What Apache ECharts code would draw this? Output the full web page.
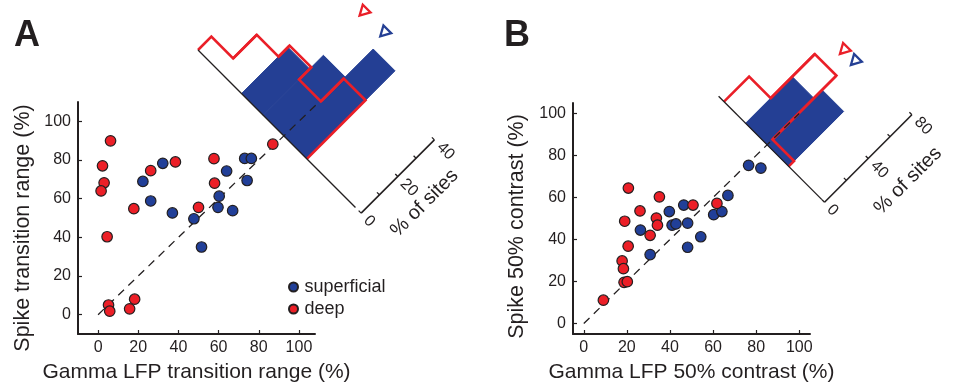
<!DOCTYPE html>
<html>
<head>
<meta charset="utf-8">
<script src="https://cdn.jsdelivr.net/npm/echarts@6/dist/echarts.min.js"></script>
<style>
  html, body { margin: 0; padding: 0; background: #fff; }
  #chart { width: 956px; height: 388px; }
</style>
</head>
<body>
<div id="chart"></div>
<script>
const FONT = "'Liberation Sans', Arial, Helvetica, sans-serif";
const INK = '#231f20';
const BLUE = '#243f94';
const RED = '#ea1f28';

const tickValues = [0, 20, 40, 60, 80, 100];

// panel A: transition range (x = gamma LFP, y = spike)
const supA = [[22.3, 68.9], [26.2, 58.8], [32.2, 78.3], [37, 52.6], [47.7, 49.6], [51.5, 35],
  [59.7, 55.5], [60.3, 61.3], [64, 74.3], [67, 53.8], [73, 80.8], [76.3, 80.8], [74.2, 69.4]];
const deepA = [[6.2, 89.9], [2.2, 77], [3, 68.2], [1.5, 64], [4.5, 40.3], [5.2, 5], [5.8, 1.8],
  [15.7, 3], [18.2, 8], [17.8, 54.8], [26.2, 74.5], [38.5, 79], [57.7, 80.7], [58, 68],
  [50, 55.5], [87, 88.2]];
const diagA = [[0, 0], [132, 132]];

// panel B: 50% contrast
const supB = [[26.3, 44.5], [30.8, 32.8], [39.7, 53.3], [41, 46.8], [42.8, 47.4], [46.4, 56.4],
  [48.2, 47.8], [48.2, 36.3], [54.3, 41.3], [60.3, 51.8], [64.1, 53.3], [66.9, 61],
  [76.5, 75.3], [82.2, 74]];
const deepB = [[9.1, 11.1], [20.7, 64.5], [19, 48.7], [26.1, 53.6], [35.1, 60.3], [33.7, 50.2],
  [34.2, 46.8], [30.8, 42], [20.6, 36.8], [17.8, 29.8], [18.4, 26.1], [18.7, 19.6],
  [20.2, 19.9], [50.7, 56.4], [61.8, 57.2]];
const diagB = [[0, 0], [100, 100]];

// rotated histograms: % of sites per bin, bins counted from the upper-left end of the base
const binsDeepA = [7.3, 20.2, 26.2, 19.5, 32.0];
const binsSupA = [0, 0, 25.3, 32.8, 48.1];
const binsDeepB = [23, 63.4, 4.9];
const binsSupB = [0, 42.7, 50.3];
// median markers [bin position, % height]: superficial, deep
const medianA = [[3.87, 53.5], [2.92, 53.5]];
const medianB = [[2.09, 74.9], [1.58, 74.9]];
const pctTicksA = [0, 10, 20, 30, 40];
const pctLabelsA = [0, 20, 40];
const pctTicksB = [0, 20, 40, 60, 80];
const pctLabelsB = [0, 40, 80];

// placement of each rotated histogram
const histA = { origin: [198, 50], binPx: 30.8, pctPx: 2.59, baseFrom: 0, baseTo: 7.23, axisAt: 7.49, nameAt: 20, nameOut: 1.23 };
const histB = { origin: [724, 101.7], binPx: 30.5, pctPx: 1.545, baseFrom: -0.25, baseTo: 4.54, axisAt: 4.66, nameAt: 48, nameOut: 1.44 };

const C = Math.SQRT1_2;
// map (bin, %) of the hidden grid onto the page, turned 45 degrees clockwise
function project(api, h, u, v, ox, oy) {
  const p = api.coord([u, v]), o = api.coord([0, 0]);
  const dx = p[0] - o[0] + (ox || 0), dy = p[1] - o[1] + (oy || 0);
  return [h.origin[0] + (dx - dy) * C, h.origin[1] + (dx + dy) * C];
}

function binData(bins) {
  return bins.map((v, i) => [i, v, bins[i - 1] || 0, bins[i + 1] || 0]);
}

function fillBars(h) {
  return function (params, api) {
    const i = api.value(0), v = api.value(1);
    if (!v) return null;
    const pts = [[i, 0], [i, v], [i + 1, v], [i + 1, 0]].map(q => project(api, h, q[0], q[1]));
    return { type: 'polygon', shape: { points: pts }, style: { fill: BLUE, stroke: BLUE, lineWidth: 1 } };
  };
}

function stepLine(h) {
  return function (params, api) {
    const i = api.value(0), v = api.value(1), prev = api.value(2), next = api.value(3);
    const pts = [[i, prev], [i, v], [i + 1, v], [i + 1, next]].map(q => project(api, h, q[0], q[1]));
    return { type: 'polyline', shape: { points: pts }, style: { stroke: RED, lineWidth: 2.6, fill: null, lineJoin: 'miter' } };
  };
}

function frame(h, labels, axisMax) {
  return function (params, api) {
    const t = api.value(0);
    const kids = [];
    const a = project(api, h, h.axisAt, t), b = project(api, h, h.axisAt, t, -3.5, 0);
    kids.push({ type: 'line', shape: { x1: a[0], y1: a[1], x2: b[0], y2: b[1] }, style: { stroke: INK, lineWidth: 1.3 } });
    if (labels.includes(t)) {
      const l = project(api, h, h.axisAt, t, 7, 0);
      kids.push({ type: 'text', x: l[0], y: l[1], rotation: -Math.PI / 4,
        style: { text: String(t), x: 0, y: 0, align: 'left', verticalAlign: 'middle', font: '16px ' + FONT, fill: INK } });
    }
    if (params.dataIndex === 0) {
      const b0 = project(api, h, h.baseFrom, 0), b1 = project(api, h, h.baseTo, 0);
      kids.push({ type: 'line', shape: { x1: b0[0], y1: b0[1], x2: b1[0], y2: b1[1] }, style: { stroke: INK, lineWidth: 1.3 } });
      const a0 = project(api, h, h.axisAt, 0), a1 = project(api, h, h.axisAt, axisMax);
      kids.push({ type: 'line', shape: { x1: a0[0], y1: a0[1], x2: a1[0], y2: a1[1] }, style: { stroke: INK, lineWidth: 1.6 } });
      const n = project(api, h, h.axisAt + h.nameOut, h.nameAt);
      kids.push({ type: 'text', x: n[0], y: n[1], rotation: Math.PI / 4,
        style: { text: '% of sites', x: 0, y: 0, align: 'center', verticalAlign: 'middle', font: '20px ' + FONT, fill: INK } });
    }
    return { type: 'group', children: kids };
  };
}

function markers(h) {
  return function (params, api) {
    const u = api.value(0), v = api.value(1);
    const col = params.dataIndex === 0 ? BLUE : RED;
    const pts = [project(api, h, u, v), project(api, h, u, v, -5.5, -10), project(api, h, u, v, 5.5, -10)];
    return { type: 'polygon', shape: { points: pts }, style: { fill: '#fff', stroke: col, lineWidth: 2.3 } };
  };
}

function valueAxis(grid, min, max, name, gap, isY, shift) {
  return {
    gridIndex: grid, type: 'value', min: min, max: max,
    name: name, nameLocation: 'middle', nameGap: gap,
    nameTextStyle: { fontFamily: FONT, fontSize: isY ? 21.5 : 21, color: INK, padding: [0, shift || 0, 0, 0] },
    axisLine: { onZero: false, lineStyle: { color: INK, width: 2 } },
    axisTick: { inside: true, length: 4, customValues: tickValues, lineStyle: { color: INK, width: 1.2 } },
    axisLabel: { customValues: tickValues, fontFamily: FONT, fontSize: 16, color: INK, margin: isY ? 7 : 6 },
    splitLine: { show: false }
  };
}

function hiddenAxis(grid, max) {
  return { gridIndex: grid, type: 'value', min: 0, max: max, show: false, splitLine: { show: false } };
}

function scatter(name, data, color, ax) {
  return {
    name: name, type: 'scatter', xAxisIndex: ax, yAxisIndex: ax, data: data, z: 4,
    symbol: 'circle', symbolSize: 10.5,
    itemStyle: { color: color, borderColor: INK, borderWidth: 1.2, opacity: 1 }
  };
}

function diag(data, ax) {
  return {
    type: 'line', xAxisIndex: ax, yAxisIndex: ax, data: data, z: 3, clip: false,
    symbol: 'none', silent: true,
    lineStyle: { color: INK, width: 1.3, type: [8, 6] }
  };
}

function custom(ax, data, render, z) {
  return { type: 'custom', xAxisIndex: ax, yAxisIndex: ax, data: data, renderItem: render, z: z, clip: false, silent: true };
}

const chart = echarts.init(document.getElementById('chart'), null, { renderer: 'canvas' });
chart.setOption({
  backgroundColor: '#fff',
  animation: false,
  textStyle: { fontFamily: FONT },
  grid: [
    { left: 78, top: 102, width: 237, height: 237 },
    { left: 573, top: 103, width: 237, height: 237 },
    { left: 0, top: 0, width: 10 * histA.binPx, height: 100 * histA.pctPx },
    { left: 0, top: 0, width: 10 * histB.binPx, height: 100 * histB.pctPx }
  ],
  xAxis: [
    valueAxis(0, -10, 108, 'Gamma LFP transition range (%)', 28, false),
    valueAxis(1, -5, 105, 'Gamma LFP 50% contrast (%)', 28, false),
    hiddenAxis(2, 10),
    hiddenAxis(3, 10)
  ],
  yAxis: [
    valueAxis(0, -10, 110, 'Spike transition range (%)', 44, true, 20),
    valueAxis(1, -5, 105, 'Spike 50% contrast (%)', 45, true, 16),
    hiddenAxis(2, 100),
    hiddenAxis(3, 100)
  ],
  legend: {
    data: ['superficial', 'deep'], orient: 'vertical', left: 283, top: 273,
    itemWidth: 12, itemHeight: 9, itemGap: 4, selectedMode: false,
    textStyle: { fontFamily: FONT, fontSize: 18, color: INK }
  },
  graphic: [
    { type: 'text', left: 14, top: 18, style: { text: 'A', font: 'bold 36px ' + FONT, fill: INK } },
    { type: 'text', left: 504, top: 18, style: { text: 'B', font: 'bold 36px ' + FONT, fill: INK } }
  ],
  series: [
    scatter('superficial', supA, '#213f98', 0),
    scatter('deep', deepA, '#ec1f27', 0),
    diag(diagA, 0),
    scatter('superficial', supB, '#213f98', 1),
    scatter('deep', deepB, '#ec1f27', 1),
    diag(diagB, 1),
    custom(2, binData(binsSupA), fillBars(histA), 1),
    custom(2, binData(binsDeepA), stepLine(histA), 2),
    custom(2, pctTicksA.map(t => [t]), frame(histA, pctLabelsA, 40), 2),
    custom(2, medianA, markers(histA), 2),
    custom(3, binData(binsSupB), fillBars(histB), 1),
    custom(3, binData(binsDeepB), stepLine(histB), 2),
    custom(3, pctTicksB.map(t => [t]), frame(histB, pctLabelsB, 80), 2),
    custom(3, medianB, markers(histB), 2)
  ]
});
</script>
</body>
</html>
